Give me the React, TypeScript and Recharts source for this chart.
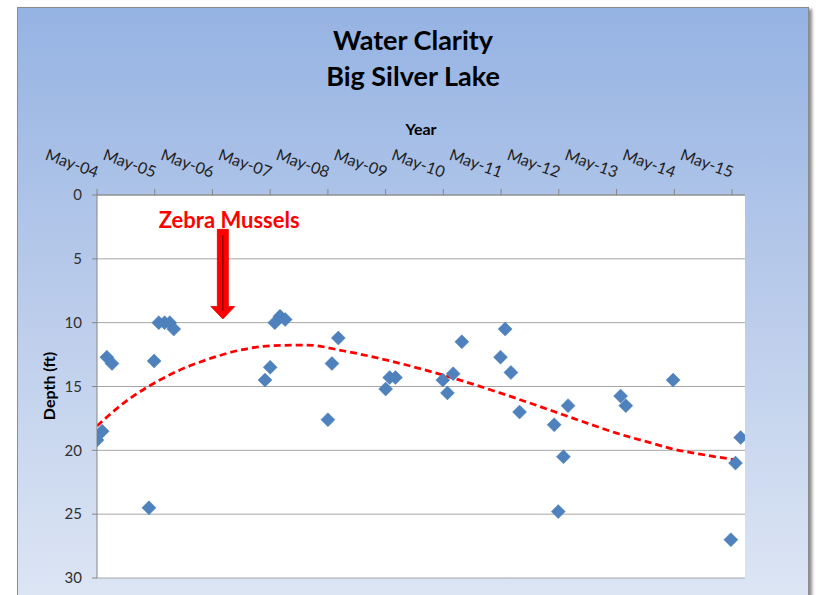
import React from 'react';
import {
  ComposedChart,
  Scatter,
  Line,
  XAxis,
  YAxis,
  CartesianGrid,
  ReferenceLine,
  ReferenceDot,
} from 'recharts';

// ---- Data (years since May 2004, depth in ft) ----
const tickYears = [0, 1, 2, 3, 4, 5, 6, 7, 8, 9, 10, 11];
const tickLabels = [
  'May-04', 'May-05', 'May-06', 'May-07', 'May-08', 'May-09',
  'May-10', 'May-11', 'May-12', 'May-13', 'May-14', 'May-15',
];
const depthTicks = [0, 5, 10, 15, 20, 25, 30];

const sampleYears = [
  0.0, 0.09, 0.17, 0.26,
  0.9, 0.99, 1.07, 1.17, 1.26, 1.33,
  2.91, 3.0, 3.08, 3.17, 3.26,
  4.0, 4.07, 4.18,
  5.0, 5.07, 5.17,
  5.99, 6.07, 6.17, 6.32,
  6.99, 7.07, 7.17, 7.32,
  7.92, 7.99, 8.08, 8.16,
  9.07, 9.16,
  9.98,
  10.98, 11.06, 11.15,
];
const sampleDepths = [
  19.2, 18.5, 12.7, 13.2,
  24.5, 13.0, 10.0, 10.0, 10.0, 10.5,
  14.5, 13.5, 10.0, 9.5, 9.75,
  17.6, 13.2, 11.2,
  15.2, 14.3, 14.3,
  14.5, 15.5, 14.0, 11.5,
  12.7, 10.5, 13.9, 17.0,
  18.0, 24.8, 20.5, 16.5,
  15.75, 16.5,
  14.5,
  27.0, 21.0, 19.0,
];

const trendYears = [
  0.0, 0.46, 0.89, 1.32, 1.9, 2.48, 3.05, 3.63, 4.26, 5.08,
  5.99, 6.98, 7.85, 8.54, 9.0, 9.58, 9.98, 10.45, 11.15,
];
const trendDepths = [
  18.1, 16.3, 15.0, 13.95, 12.9, 12.15, 11.8, 11.75, 12.2, 13.0,
  14.1, 15.5, 16.85, 17.95, 18.65, 19.4, 19.9, 20.3, 20.8,
];

const arrowYear = 2.18;
const arrowTop = 2.69;
const arrowTip = 9.71;
const noteYear = 2.29;
const noteDepth = 1.88;
const noteText = 'Zebra Mussels';

const samples = sampleYears.map((x, i) => ({ x, y: sampleDepths[i] }));
const trend = trendYears.map((x, i) => ({ x, y: trendDepths[i] }));

const FONT = 'Lato, "Open Sans", sans-serif';

const Diamond = (props: any) => {
  const { cx, cy } = props;
  if (cx == null || cy == null) return null;
  const r = 7;
  return (
    <path
      d={`M${cx},${cy - r}L${cx + r},${cy}L${cx},${cy + r}L${cx - r},${cy}Z`}
      fill="#4f81bd"
      stroke="#4a7ebb"
      strokeWidth={0.5}
    />
  );
};

const TopTick = (props: any) => {
  const { x, y, payload } = props;
  const label = tickLabels[Math.round(payload.value)];
  const ax = x - 1;
  return (
    <text
      x={ax}
      y={y}
      transform={`rotate(20 ${ax} ${y})`}
      textAnchor="end"
      fontFamily={FONT}
      fontSize={16}
      fill="#1f1f1f"
    >
      {label}
    </text>
  );
};

const Arrow = (props: any) => {
  const { x1, y1, y2 } = props;
  if (x1 == null) return null;
  const cx = x1;
  const shaftHalf = 5.5;
  const headHalf = 12;
  const headLen = 12.5;
  const hy = y2 - headLen;
  return (
    <g>
      <path
        d={`M${cx - shaftHalf},${y1}L${cx + shaftHalf},${y1}L${cx + shaftHalf},${hy}L${cx + headHalf},${hy}L${cx},${y2}L${cx - headHalf},${hy}L${cx - shaftHalf},${hy}Z`}
        fill="#ff0000"
        stroke="#e00000"
        strokeWidth={0.8}
      />
      <line x1={cx} y1={y1 + 6} x2={cx} y2={hy + 4} stroke="#5a0000" strokeWidth={1} />
    </g>
  );
};

const Note = (props: any) => {
  const { cx, cy } = props;
  if (cx == null) return null;
  return (
    <text
      x={cx}
      y={cy}
      textAnchor="middle"
      dominantBaseline="central"
      fontFamily={FONT}
      fontWeight="bold"
      fontSize={22}
      fill="#ff0000"
    >
      {noteText}
    </text>
  );
};

export default function App() {
  return (
    <div style={{ position: 'absolute', left: 0, top: 0, width: 816, height: 595, overflow: 'hidden', background: '#ffffff' }}>
      <div
        style={{
          position: 'absolute',
          left: 17,
          top: 7,
          width: 790,
          height: 620,
          border: '1px solid #8c8c8c',
          background: 'linear-gradient(to bottom, #95b3e3 0%, #bccdeb 50%, #e0e8f5 100%)',
          boxShadow: '3px 2px 3px rgba(0,0,0,0.45)',
        }}
      />
      <div style={{ position: 'absolute', left: 0, top: 0 }}>
        <ComposedChart
          width={816}
          height={595}
          margin={{ top: 120, right: 71, bottom: 17, left: 47 }}
        >
          <CartesianGrid vertical={false} stroke="#a6a6a6" fill="#ffffff" />
          <XAxis
            type="number"
            dataKey="x"
            orientation="top"
            domain={[0, 11.225]}
            allowDataOverflow
            ticks={tickYears}
            tick={<TopTick />}
            tickSize={6}
            tickMargin={11}
            height={75}
            stroke="#868686"
            interval={0}
          />
          <YAxis
            type="number"
            dataKey="y"
            reversed
            domain={[0, 30]}
            ticks={depthTicks}
            tickSize={5}
            tickMargin={10}
            width={50}
            stroke="#868686"
            interval={0}
            tick={{ fill: '#303030', fontSize: 15, fontFamily: FONT }}
          />
          <Line
            data={trend}
            dataKey="y"
            type="monotone"
            stroke="#ff0000"
            strokeWidth={2.75}
            strokeDasharray="7 4"
            dot={false}
            activeDot={false}
            isAnimationActive={false}
          />
          <Scatter
            data={samples}
            dataKey="y"
            shape={<Diamond />}
            isAnimationActive={false}
          />
          <ReferenceLine
            segment={[{ x: arrowYear, y: arrowTop }, { x: arrowYear, y: arrowTip }]}
            shape={<Arrow />}
            stroke="#ff0000"
          />
          <ReferenceDot x={noteYear} y={noteDepth} r={0} shape={<Note />} />
        </ComposedChart>
      </div>
      <svg
        width={816}
        height={595}
        style={{ position: 'absolute', left: 0, top: 0, pointerEvents: 'none' }}
      >
        <text x={413} y={50} textAnchor="middle" fontFamily={FONT} fontWeight="bold" fontSize={27} fill="#000">
          Water Clarity
        </text>
        <text x={413} y={86} textAnchor="middle" fontFamily={FONT} fontWeight="bold" fontSize={27} fill="#000">
          Big Silver Lake
        </text>
        <text x={421} y={135} textAnchor="middle" fontFamily={FONT} fontWeight="bold" fontSize={16} fill="#000">
          Year
        </text>
        <text
          x={55}
          y={386}
          textAnchor="middle"
          transform="rotate(-90 55 386)"
          fontFamily={FONT}
          fontWeight="bold"
          fontSize={16}
          fill="#000"
        >
          Depth (ft)
        </text>
      </svg>
    </div>
  );
}
